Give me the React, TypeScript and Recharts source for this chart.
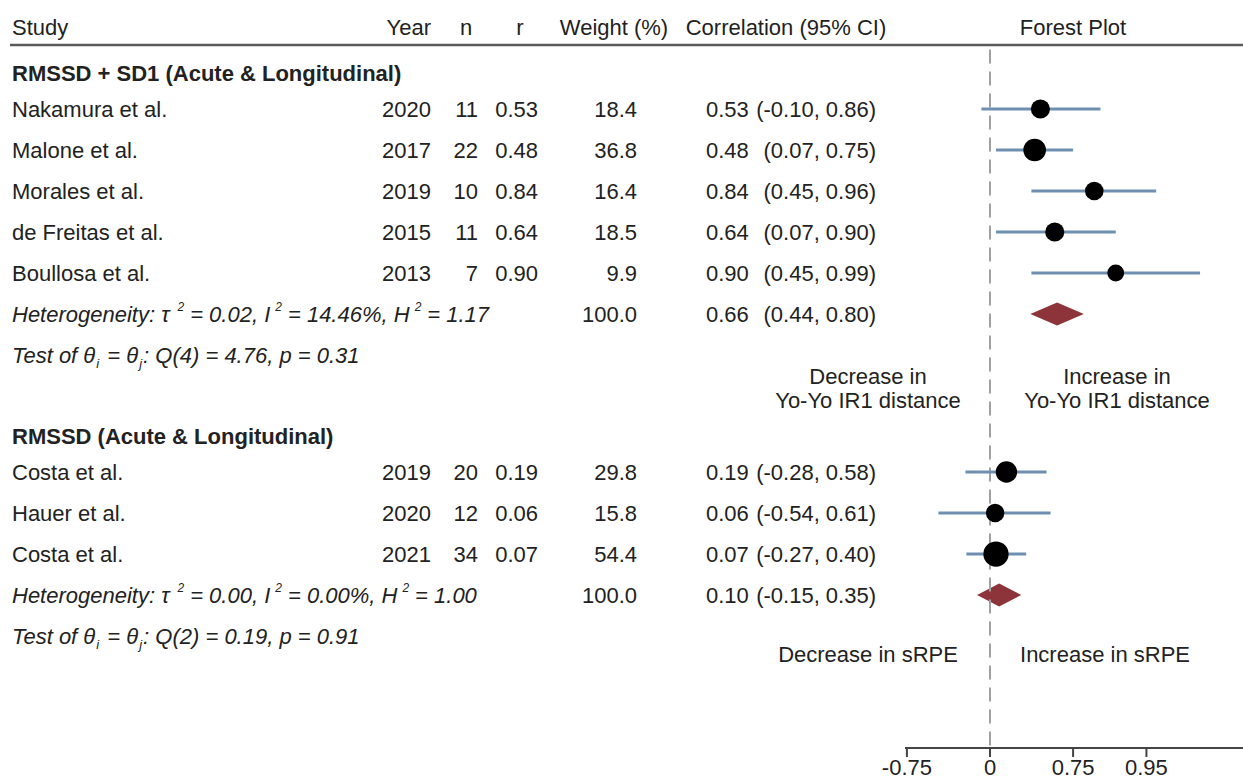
import React from 'react';
import { ScatterChart, XAxis, YAxis, Scatter, ErrorBar, ReferenceLine, ReferenceArea } from 'recharts';

// ---------- data ----------
const columnHeaders = ['Study', 'Year', 'n', 'r', 'Weight (%)', 'Correlation (95% CI)', 'Forest Plot'];

const group1Title = 'RMSSD + SD1 (Acute & Longitudinal)';
const group1Studies = ['Nakamura et al.', 'Malone et al.', 'Morales et al.', 'de Freitas et al.', 'Boullosa et al.'];
const group1Years = [2020, 2017, 2019, 2015, 2013];
const group1N = [11, 22, 10, 11, 7];
const group1R = [0.53, 0.48, 0.84, 0.64, 0.9];
const group1Weight = [18.4, 36.8, 16.4, 18.5, 9.9];
const group1Low = [-0.1, 0.07, 0.45, 0.07, 0.45];
const group1High = [0.86, 0.75, 0.96, 0.9, 0.9855];
const group1Pooled = [0.66, 0.44, 0.8]; // r, low, high
const group1Stats = ['0.02', '14.46%', '1.17', '4', '4.76', '0.31']; // tau2, I2, H2, df, Q, p
const group1DirLeft = ['Decrease in', 'Yo-Yo IR1 distance'];
const group1DirRight = ['Increase in', 'Yo-Yo IR1 distance'];

const group2Title = 'RMSSD (Acute & Longitudinal)';
const group2Studies = ['Costa et al.', 'Hauer et al.', 'Costa et al.'];
const group2Years = [2019, 2020, 2021];
const group2N = [20, 12, 34];
const group2R = [0.19, 0.06, 0.07];
const group2Weight = [29.8, 15.8, 54.4];
const group2Low = [-0.28, -0.54, -0.27];
const group2High = [0.58, 0.61, 0.4];
const group2Pooled = [0.1, -0.15, 0.35];
const group2Stats = ['0.00', '0.00%', '1.00', '2', '0.19', '0.91'];
const group2DirLeft = ['Decrease in sRPE'];
const group2DirRight = ['Increase in sRPE'];

const axisTickR = [-0.75, 0, 0.75, 0.95];
const axisTickLabels = ['-0.75', '0', '0.75', '0.95'];

// ---------- layout ----------
const W = 1243;
const H = 782;
const FONT = '"Liberation Sans", Arial, Helvetica, sans-serif';
const FS = 22;
const TXT = '#222';
const CI_COLOR = '#6e8fb0';
const DIAMOND = '#8c3439';
const ROW_H = 41;
const ROW0_Y = 68;
const PLOT_BOTTOM = 748;
const PLOT_LEFT = 905;
const Y_MIN = -ROW0_Y / ROW_H;
const Y_MAX = Y_MIN + PLOT_BOTTOM / ROW_H;
const PX_PER_UNIT = 85.4;
const X_MIN = -(990 - PLOT_LEFT) / PX_PER_UNIT;
const X_MAX = (W - 990) / PX_PER_UNIT;

const COL = { study: 12, yearEnd: 431, nEnd: 478, rEnd: 538, wEnd: 637, corrStart: 706, corrEnd: 876 };
const HEAD_X = { study: 12, yearEnd: 431, n: 466, r: 520, w: 614, corr: 786, forest: 1073 };

const groups = [
  { start: 0, dirOffset: 0.8, dirRightX: 1117, title: group1Title, studies: group1Studies, years: group1Years, n: group1N, r: group1R, w: group1Weight, lo: group1Low, hi: group1High, pooled: group1Pooled, stats: group1Stats, dirL: group1DirLeft, dirR: group1DirRight },
  { start: 8.854, dirOffset: 0.44, dirRightX: 1105, title: group2Title, studies: group2Studies, years: group2Years, n: group2N, r: group2R, w: group2Weight, lo: group2Low, hi: group2High, pooled: group2Pooled, stats: group2Stats, dirL: group2DirLeft, dirR: group2DirRight },
];

type Row = { k: number; kind: string; [key: string]: any };
const rows: Row[] = [{ k: -1, kind: 'colhead' }];
const studyPoints: any[] = [];
const pooledAreas: any[] = [];
groups.forEach((g) => {
  rows.push({ k: g.start, kind: 'group', title: g.title });
  g.studies.forEach((s, i) => {
    const k = g.start + 1 + i;
    rows.push({ k, kind: 'study', name: s, year: g.years[i], n: g.n[i], r: g.r[i], w: g.w[i], lo: g.lo[i], hi: g.hi[i] });
    const x = Math.atanh(g.r[i]);
    studyPoints.push({ x, y: k, w: g.w[i], err: [x - Math.atanh(g.lo[i]), Math.atanh(g.hi[i]) - x] });
  });
  const pk = g.start + 1 + g.studies.length;
  rows.push({ k: pk, kind: 'pooled', r: g.pooled[0], lo: g.pooled[1], hi: g.pooled[2], stats: g.stats });
  pooledAreas.push({ k: pk, x1: Math.atanh(g.pooled[1]), x2: Math.atanh(g.pooled[2]) });
  rows.push({ k: pk + 1, kind: 'test', stats: g.stats });
  rows.push({ k: pk + 1 + g.dirOffset, kind: 'dir', left: g.dirL, right: g.dirR, rightX: g.dirRightX });
});

const txt = (x: number, y: number, s: React.ReactNode, anchor: string = 'start', extra: any = {}) => (
  <text x={x} y={y} dy="0.35em" textAnchor={anchor} fontFamily={FONT} fontSize={FS} fill={TXT} {...extra}>
    {s}
  </text>
);

const fmt = (v: number) => v.toFixed(2);

const RowTick = (props: any) => {
  const { y, payload } = props;
  const row = rows.find((r) => Math.abs(r.k - payload.value) < 1e-6);
  if (!row) return null;
  if (row.kind === 'colhead') {
    return (
      <g>
        {txt(HEAD_X.study, y, columnHeaders[0])}
        {txt(HEAD_X.yearEnd, y, columnHeaders[1], 'end')}
        {txt(HEAD_X.n, y, columnHeaders[2], 'middle')}
        {txt(HEAD_X.r, y, columnHeaders[3], 'middle')}
        {txt(HEAD_X.w, y, columnHeaders[4], 'middle')}
        {txt(HEAD_X.corr, y, columnHeaders[5], 'middle')}
        {txt(HEAD_X.forest, y, columnHeaders[6], 'middle')}
        <line x1={10} x2={W} y1={y + 18} y2={y + 18} stroke="#5a5a5a" strokeWidth={2.5} />
      </g>
    );
  }
  if (row.kind === 'group') {
    return <g>{txt(COL.study, y + 5, row.title, 'start', { fontWeight: 'bold' })}</g>;
  }
  if (row.kind === 'study') {
    const ci = `(${fmt(row.lo)}, ${fmt(row.hi)})`;
    return (
      <g>
        {txt(COL.study, y, row.name)}
        {txt(COL.yearEnd, y, String(row.year), 'end')}
        {txt(COL.nEnd, y, String(row.n), 'end')}
        {txt(COL.rEnd, y, fmt(row.r), 'end')}
        {txt(COL.wEnd, y, row.w.toFixed(1), 'end')}
        {txt(COL.corrStart, y, fmt(row.r))}
        {txt(COL.corrEnd, y, ci, 'end')}
      </g>
    );
  }
  if (row.kind === 'pooled') {
    const st = row.stats;
    const ci = `(${fmt(row.lo)}, ${fmt(row.hi)})`;
    return (
      <g>
        {txt(
          COL.study,
          y,
          <>
            Heterogeneity: τ
            <tspan dx={8} dy={-11} fontSize={12}>2</tspan>
            <tspan dx={6} dy={11}>{`= ${st[0]}, I`}</tspan>
            <tspan dx={5} dy={-11} fontSize={12}>2</tspan>
            <tspan dx={6} dy={11}>{`= ${st[1]}, H`}</tspan>
            <tspan dx={5} dy={-11} fontSize={12}>2</tspan>
            <tspan dx={6} dy={11}>{`= ${st[2]}`}</tspan>
          </>,
          'start',
          { fontStyle: 'italic' }
        )}
        {txt(COL.wEnd, y, (100).toFixed(1), 'end')}
        {txt(COL.corrStart, y, fmt(row.r))}
        {txt(COL.corrEnd, y, ci, 'end')}
      </g>
    );
  }
  if (row.kind === 'test') {
    const st = row.stats;
    return (
      <g>
        {txt(
          COL.study,
          y,
          <>
            Test of θ
            <tspan dx={1} dy={5} fontSize={13}>i</tspan>
            <tspan dx={2} dy={-5}> = θ</tspan>
            <tspan dx={1} dy={5} fontSize={13}>j</tspan>
            <tspan dx={1} dy={-5}>{`: Q(${st[3]}) = ${st[4]}, p = ${st[5]}`}</tspan>
          </>,
          'start',
          { fontStyle: 'italic' }
        )}
      </g>
    );
  }
  if (row.kind === 'dir') {
    const n = row.left.length;
    const off = (i: number) => (n === 1 ? 0 : i === 0 ? -12 : 12);
    return (
      <g>
        {row.left.map((s: string, i: number) => (
          <React.Fragment key={'l' + i}>{txt(868, y + off(i), s, 'middle')}</React.Fragment>
        ))}
        {row.right.map((s: string, i: number) => (
          <React.Fragment key={'r' + i}>{txt(row.rightX, y + off(i), s, 'middle')}</React.Fragment>
        ))}
      </g>
    );
  }
  return null;
};

const Dot = (props: any) => {
  const { cx, cy, payload } = props;
  const d = 10.5 + 2 * Math.sqrt(payload.w);
  return <circle cx={cx} cy={cy} r={d / 2} fill="#000" />;
};

const Diamond = (props: any) => {
  const { x, y, width, height } = props;
  const cx = x + width / 2;
  const cy = y + height / 2;
  return <polygon points={`${x},${cy} ${cx},${y} ${x + width},${cy} ${cx},${y + height}`} fill={DIAMOND} />;
};

export default function App() {
  return (
    <div style={{ position: 'absolute', left: 0, top: 0, width: W, height: H, background: '#fff' }}>
      <ScatterChart width={W} height={H} margin={{ top: 0, right: 0, bottom: 0, left: 0 }}>
        <XAxis
          type="number"
          dataKey="x"
          domain={[X_MIN, X_MAX]}
          allowDataOverflow
          ticks={axisTickR.map((r) => Math.atanh(r))}
          tickFormatter={(_v: any, i: number) => axisTickLabels[i]}
          interval={0}
          height={H - PLOT_BOTTOM}
          axisLine={{ stroke: '#444', strokeWidth: 2 }}
          tickLine={{ stroke: '#444', strokeWidth: 2 }}
          tickSize={9}
          tick={{ fontFamily: FONT, fontSize: FS, fill: TXT }}
        />
        <YAxis
          type="number"
          dataKey="y"
          domain={[Y_MIN, Y_MAX]}
          reversed
          allowDataOverflow
          ticks={rows.map((r) => r.k)}
          interval={0}
          width={PLOT_LEFT}
          axisLine={false}
          tickLine={false}
          tick={(p: any) => <RowTick {...p} />}
        />
        <ReferenceLine
          segment={[{ x: 0, y: -0.45 }, { x: 0, y: Y_MAX }]}
          stroke="#a0a0a0"
          strokeWidth={2}
          strokeDasharray="14 8"
        />
        <Scatter data={studyPoints} shape={() => <g />} isAnimationActive={false}>
          <ErrorBar dataKey="err" direction="x" width={0} stroke={CI_COLOR} strokeWidth={3} isAnimationActive={false} />
        </Scatter>
        <Scatter data={studyPoints} shape={(p: any) => <Dot {...p} />} isAnimationActive={false} />
        {pooledAreas.map((a, i) => (
          <ReferenceArea
            key={i}
            x1={a.x1}
            x2={a.x2}
            y1={a.k - 0.28}
            y2={a.k + 0.28}
            shape={(p: any) => <Diamond {...p} />}
          />
        ))}
      </ScatterChart>
    </div>
  );
}
